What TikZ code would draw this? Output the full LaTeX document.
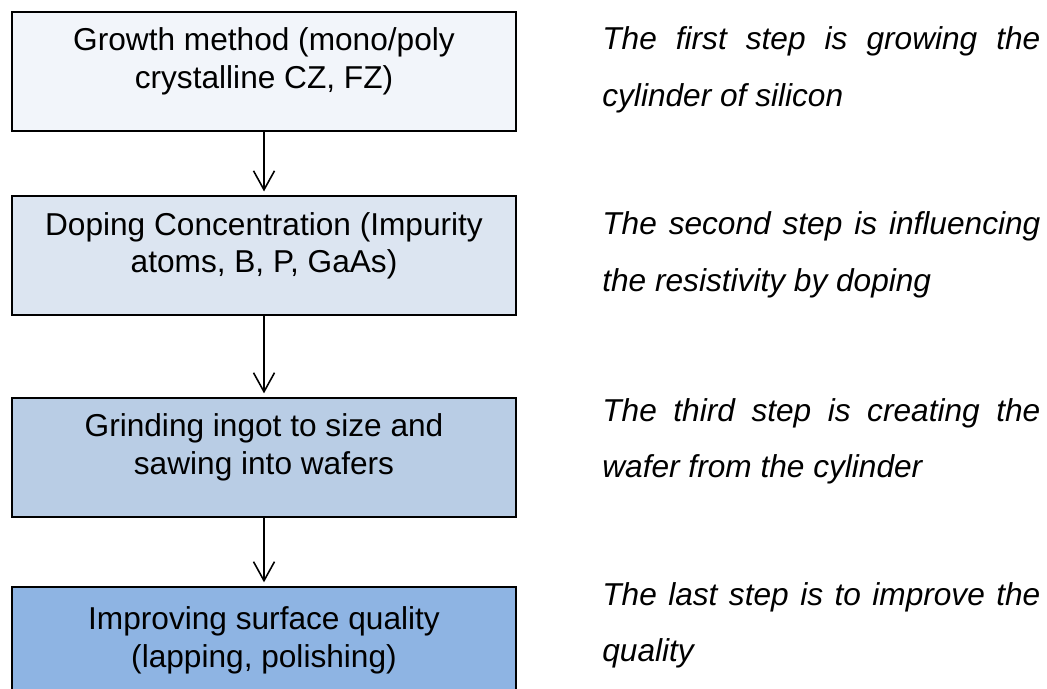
\documentclass[tikz,border=0pt]{standalone}
\usepackage{fontspec}
\setmainfont{Liberation Sans}
\usetikzlibrary{arrows.meta, positioning}
\definecolor{IceBlue}{HTML}{F2F5FA}
\definecolor{PaleBlue}{HTML}{DCE5F1}
\definecolor{LBlue}{HTML}{B9CDE5}
\definecolor{SBlue}{HTML}{8EB4E3}

\begin{document}
\begin{tikzpicture}[
  stepbox/.style={draw=black, line width=1.1pt, minimum width=10.08cm, minimum height=2.38cm, inner sep=0pt},
  boxtext/.style={align=center, inner sep=0pt, font=\fontsize{18}{21.5}\selectfont},
  note/.style={text width=8.76cm, align=justify, inner sep=0pt, font=\fontsize{18}{31.9}\selectfont\itshape},
  flow/.style={-{Straight Barb[length=0.38cm, width=0.42cm]}, line width=0.9pt, shorten >=2pt}
]
  % Frame
  \useasboundingbox (0,0) rectangle (20.94,-13.78);
  \clip (0,0) rectangle (20.94,-13.78);
  % Steps
  \node[stepbox, fill=IceBlue] (growth) at (5.28,-1.43) {};
  \node[stepbox, fill=PaleBlue, below=1.26cm of growth] (doping) {};
  \node[stepbox, fill=LBlue, below=1.62cm of doping] (grinding) {};
  \node[stepbox, fill=SBlue, below=1.36cm of grinding] (surface) {};
  % Step texts (base = last line)
  \node[boxtext, anchor=base] (growthtxt) at ([yshift=-1.54cm]growth.north) {Growth method (mono/poly\\crystalline CZ, FZ)};
  \node[boxtext, anchor=base] (dopingtxt) at ([yshift=-1.56cm]doping.north) {Doping Concentration (Impurity\\atoms, B, P, GaAs)};
  \node[boxtext, anchor=base] (grindingtxt) at ([yshift=-1.55cm]grinding.north) {Grinding ingot to size and\\sawing into wafers};
  \node[boxtext, anchor=base] (surfacetxt) at ([yshift=-1.63cm]surface.north) {Improving surface quality\\(lapping, polishing)};
  % Arrows
  \draw[flow] (growth) -- (doping);
  \draw[flow] (doping) -- (grinding);
  \draw[flow] (grinding) -- (surface);
  % Notes
  \node[note, anchor=base west] (note1) at (12.04,-1.0) {The first step is growing the\linebreak cylinder of silicon};
  \node[note, anchor=base west] (note2) at (12.04,-4.7) {The second step is influencing\linebreak the resistivity by doping};
  \node[note, anchor=base west] (note3) at (12.04,-8.42) {The third step is creating the\linebreak wafer from the cylinder};
  \node[note, anchor=base west] (note4) at (12.04,-12.1) {The last step is to improve the\linebreak quality};
\end{tikzpicture}
\end{document}
